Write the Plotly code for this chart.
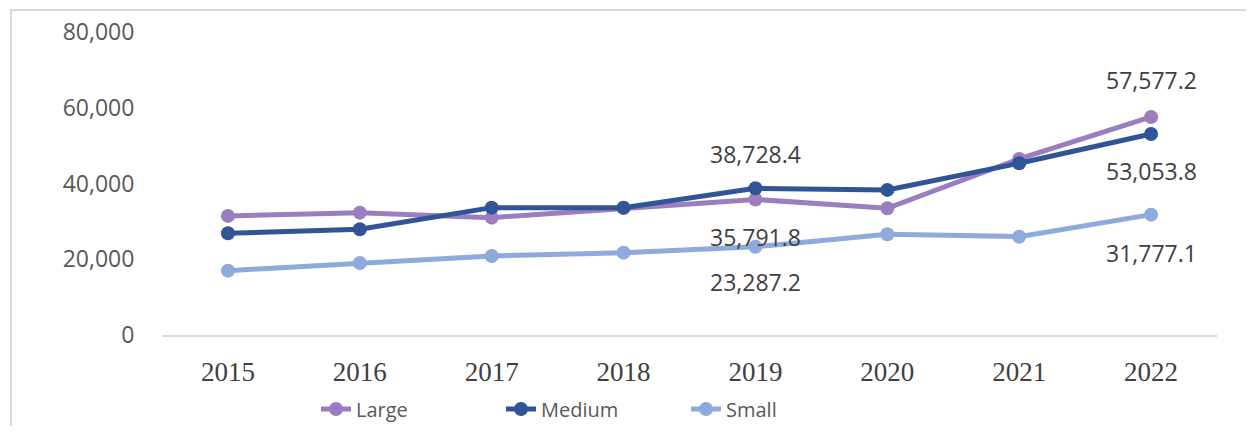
import plotly.graph_objects as go

years = [2015, 2016, 2017, 2018, 2019, 2020, 2021, 2022]
large = [31440, 32310, 30990, 33550, 35791.8, 33470, 46500, 57577.2]
medium = [26870, 27930, 33630, 33630, 38728.4, 38310, 45360, 53053.8]
small = [16990, 19020, 20870, 21740, 23287.2, 26600, 25970, 31777.1]
y_ticks = [0, 20000, 40000, 60000, 80000]

series = [
    ("Large", large, "#9B7EC0"),
    ("Medium", medium, "#2F5597"),
    ("Small", small, "#8FAADC"),
]

fig = go.Figure()
for name, vals, col in series:
    fig.add_trace(go.Scatter(
        x=years, y=vals, name=name, mode="lines+markers",
        line=dict(color=col, width=5),
        marker=dict(color=col, size=14),
    ))

# data labels (index, series values, vertical shift in px)
labels = [
    (4, medium, 34), (4, large, -38), (4, small, -35),
    (7, large, 37), (7, medium, -37), (7, small, -38),
]
for idx, vals, shift in labels:
    fig.add_annotation(
        x=years[idx], y=vals[idx], text=f"{vals[idx]:,.1f}",
        showarrow=False, yshift=shift,
        font=dict(family="Open Sans", size=23, color="#404040"),
    )

# page body has an 8px margin: figure coordinates are reference minus 8
FW, FH = 1246, 418
L, T, W, H = 154, 24, 1055, 303
fig.add_shape(type="rect", xref="paper", yref="paper",
              x0=(3 - L) / W, x1=(1260 - L) / W,
              y0=(T + H - 440) / H, y1=(T + H - 2) / H,
              line=dict(color="#D9D9D9", width=2), fillcolor="rgba(0,0,0,0)",
              layer="below")

fig.update_layout(
    width=FW, height=FH,
    margin=dict(l=L, r=FW - L - W, t=T, b=FH - T - H, autoexpand=False),
    paper_bgcolor="white", plot_bgcolor="white",
    showlegend=True,
    legend=dict(orientation="h", x=(308 - L) / W, xanchor="left",
                y=(T + H - 401) / H, yanchor="middle",
                entrywidth=140, entrywidthmode="pixels",
                font=dict(family="Open Sans", size=20, color="#595959"),
                bgcolor="rgba(0,0,0,0)"),
    xaxis=dict(range=[years[0] - 0.5, years[-1] + 0.5], tickvals=years,
               ticktext=[str(y) for y in years],
               showgrid=False, zeroline=False, showline=True,
               linecolor="#D9D9D9", linewidth=2,
               ticks="outside", ticklen=12, tickcolor="rgba(0,0,0,0)",
               tickfont=dict(family="Liberation Serif", size=27, color="#404040")),
    yaxis=dict(range=[0, 80000], tickvals=y_ticks,
               ticktext=[f"{v:,}" for v in y_ticks],
               showgrid=False, zeroline=False, showline=False,
               ticks="outside", ticklen=22, tickcolor="rgba(0,0,0,0)",
               tickfont=dict(family="Open Sans", size=23, color="#595959")),
)

fig.write_html("out.html")
